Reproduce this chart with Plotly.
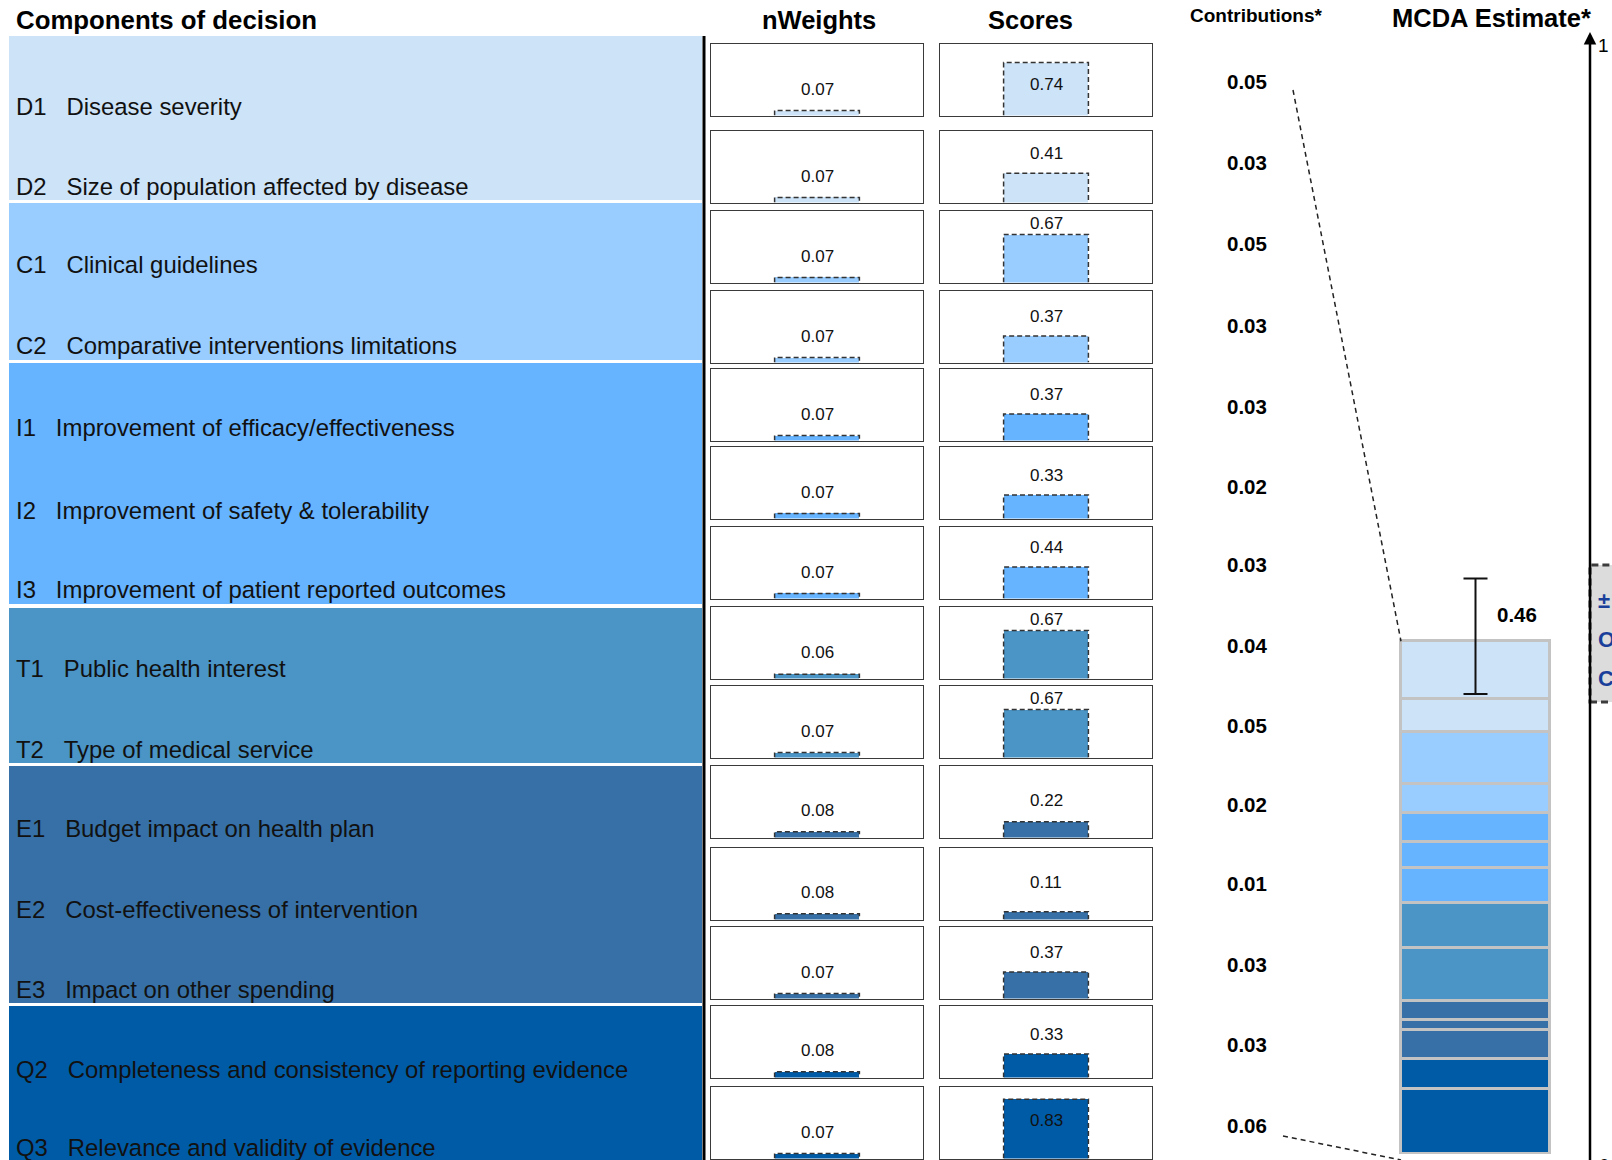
import plotly.graph_objects as go

# ---------------- data ----------------
codes = ["D1", "D2", "C1", "C2", "I1", "I2", "I3", "T1", "T2", "E1", "E2", "E3", "Q2", "Q3"]
criteria = [
    "Disease severity",
    "Size of population affected by disease",
    "Clinical guidelines",
    "Comparative interventions limitations",
    "Improvement of efficacy/effectiveness",
    "Improvement of safety & tolerability",
    "Improvement of patient reported outcomes",
    "Public health interest",
    "Type of medical service",
    "Budget impact on health plan",
    "Cost-effectiveness of intervention",
    "Impact on other spending",
    "Completeness and consistency of reporting evidence",
    "Relevance and validity of evidence",
]
groups = ["D", "D", "C", "C", "I", "I", "I", "T", "T", "E", "E", "E", "Q", "Q"]
weights = [0.07, 0.07, 0.07, 0.07, 0.07, 0.07, 0.07, 0.06, 0.07, 0.08, 0.08, 0.07, 0.08, 0.07]
scores = [0.74, 0.41, 0.67, 0.37, 0.37, 0.33, 0.44, 0.67, 0.67, 0.22, 0.11, 0.37, 0.33, 0.83]
estimate_err_plus = 0.056
estimate_err_minus = 0.047
note_lines = ["± SD", "Overall", "Certainty"]

group_colors = {
    "D": "#cde3f7",
    "C": "#99ccff",
    "I": "#66b3ff",
    "T": "#4a94c6",
    "E": "#3670a6",
    "Q": "#005ba6",
}

contributions = [w * s for w, s in zip(weights, scores)]
total = sum(contributions)
# stacked from the bottom: last criterion sits at the base of the column
bases = [sum(contributions[i + 1:]) for i in range(len(contributions))]

# ---------------- page geometry (px) ----------------
W, H = 1612, 1160
FONT = "Liberation Sans, Arial, sans-serif"
row_tops = [44, 131, 211, 291, 369, 447, 527, 607, 686, 766, 848, 927, 1006, 1087]
label_rows = [106, 186, 264, 345, 428, 510, 589, 668, 749, 828, 909, 989, 1069, 1147]
contrib_rows = [82, 163, 244, 326, 406, 486, 565, 646, 725, 804, 883, 964, 1044, 1125]
BOX_H = 71.5
weight_box = (711, 923)
score_box = (940, 1152)
band_spans = {"D": (36, 200), "C": (203, 360), "I": (363, 604),
              "T": (608, 763), "E": (766, 1003), "Q": (1006, 1165)}

est_dom = (1380, 1612)
est_bar = (1401, 1550)
est_zero_px, est_one_px = 1154, 32
axis_px = 1590


def px(x):
    return x / W


def py(y):
    return 1 - y / H


fig = go.Figure()
layout = dict(
    width=W, height=H,
    margin=dict(l=0, r=0, t=0, b=0),
    paper_bgcolor="white", plot_bgcolor="rgba(0,0,0,0)",
    showlegend=False,
    font=dict(family=FONT, color="#111111"),
)
shapes = []
annotations = []

# ---------------- group bands + criterion labels ----------------
for g, (y0, y1) in band_spans.items():
    shapes.append(dict(type="rect", xref="paper", yref="paper", layer="below",
                       x0=px(9), x1=px(702), y0=py(y1), y1=py(y0),
                       fillcolor=group_colors[g], line=dict(width=0)))
shapes.append(dict(type="line", xref="paper", yref="paper",
                   x0=px(704), x1=px(704), y0=py(36), y1=py(1165),
                   line=dict(color="black", width=3)))

for i, (c, name) in enumerate(zip(codes, criteria)):
    annotations.append(dict(xref="paper", yref="paper", x=px(14), y=py(label_rows[i]),
                            xanchor="left", yanchor="middle", showarrow=False,
                            text=c + "\u00a0\u00a0\u00a0" + name,
                            font=dict(size=23.9, color="#111111")))

# ---------------- headers ----------------
headers = [
    ("Components of decision", 14, 20, "left", 25.8),
    ("nWeights", 819, 20, "center", 25.5),
    ("Scores", 1030, 20, "center", 25.5),
    ("Contributions*", 1256, 15, "center", 19),
    ("MCDA Estimate*", 1491, 18, "center", 25.5),
]
for txt, x, y, anchor, size in headers:
    annotations.append(dict(xref="paper", yref="paper", x=px(x), y=py(y),
                            xanchor=anchor, yanchor="middle", showarrow=False,
                            text="<b>" + txt + "</b>", font=dict(size=size, color="black")))

# ---------------- mini bar panels (weights and scores) ----------------
BAR_HALF = 0.2
dash_style = "5px,3px"


def mini_axes(k, xspan, top):
    sfx = "" if k == 1 else str(k)
    common = dict(showline=True, mirror=True, linecolor="#3a3a3a", linewidth=1,
                  showticklabels=False, ticks="", showgrid=False, zeroline=False,
                  fixedrange=True)
    layout["xaxis" + sfx] = dict(domain=[px(xspan[0]), px(xspan[1])], range=[-0.5, 0.5],
                                 anchor="y" + sfx, **common)
    layout["yaxis" + sfx] = dict(domain=[py(top + BOX_H), py(top)], range=[0, 1],
                                 anchor="x" + sfx, **common)
    return "x" + sfx, "y" + sfx


def add_panel(k, xspan, top, value, color, label_y):
    xr, yr = mini_axes(k, xspan, top)
    fig.add_trace(go.Bar(x=[0], y=[value], width=2 * BAR_HALF, xaxis=xr, yaxis=yr,
                         marker=dict(color=color, line=dict(width=0)), hoverinfo="skip"))
    fig.add_trace(go.Scatter(x=[-BAR_HALF, -BAR_HALF, BAR_HALF, BAR_HALF],
                             y=[0, value, value, 0], mode="lines", xaxis=xr, yaxis=yr,
                             line=dict(color="#333333", width=1.5, dash=dash_style),
                             hoverinfo="skip", cliponaxis=False))
    annotations.append(dict(xref=xr, yref=yr, x=0, y=label_y, showarrow=False,
                            xanchor="center", yanchor="middle",
                            text=f"{value:.2f}", font=dict(size=17, color="#111111")))


n = len(codes)
for i in range(n):
    col = group_colors[groups[i]]
    w = weights[i]
    add_panel(i + 1, weight_box, row_tops[i], w, col, w + 0.3)
    s = scores[i]
    s_lab = s - 0.3 if s >= 0.7 else min(max(s + 0.27, 0.52), 0.82)
    add_panel(n + i + 1, score_box, row_tops[i], s, col, s_lab)

# ---------------- contribution values ----------------
for i, c in enumerate(contributions):
    annotations.append(dict(xref="paper", yref="paper", x=px(1247), y=py(contrib_rows[i]),
                            xanchor="center", yanchor="middle", showarrow=False,
                            text=f"<b>{c:.2f}</b>", font=dict(size=20.5, color="black")))

# ---------------- MCDA estimate stacked column ----------------
k = 2 * n + 1
sfx = str(k)
unit = est_bar[1] - est_bar[0]
x_lo = -0.5 - (est_bar[0] - est_dom[0]) / unit
x_hi = 0.5 + (est_dom[1] - est_bar[1]) / unit
y_dom = [py(est_zero_px), py(est_one_px)]
layout["xaxis" + sfx] = dict(domain=[px(est_dom[0]), 1], range=[x_lo, x_hi], visible=False,
                             anchor="y" + sfx, fixedrange=True)
layout["yaxis" + sfx] = dict(domain=y_dom, range=[0, 1], visible=False,
                             anchor="x" + sfx, fixedrange=True)
xr, yr = "x" + sfx, "y" + sfx

fig.add_trace(go.Bar(x=[0] * n, y=contributions, base=bases, width=1, xaxis=xr, yaxis=yr,
                     marker=dict(color=[group_colors[g] for g in groups],
                                 line=dict(color="#c3c3c3", width=3)),
                     hoverinfo="skip", cliponaxis=False))
fig.add_trace(go.Scatter(x=[0], y=[total], mode="markers", xaxis=xr, yaxis=yr,
                         marker=dict(size=1, color="rgba(0,0,0,0)"),
                         error_y=dict(type="data", symmetric=False,
                                      array=[estimate_err_plus],
                                      arrayminus=[estimate_err_minus],
                                      color="#111111", thickness=2, width=12),
                         hoverinfo="skip", cliponaxis=False))
annotations.append(dict(xref=xr, yref=yr, x=0, y=total, xshift=41, yshift=27,
                        showarrow=False, xanchor="center", yanchor="middle",
                        text=f"<b>{total:.2f}</b>", font=dict(size=20.5, color="black")))

axis_x = 0.5 + (axis_px - est_bar[1]) / unit
annotations.append(dict(xref=xr, yref=yr, x=axis_x, y=1, axref=xr, ayref=yr,
                        ax=axis_x, ay=-0.02, showarrow=True, arrowhead=2,
                        arrowwidth=2.5, arrowsize=1, arrowcolor="black", text=""))
annotations.append(dict(xref=xr, yref=yr, x=axis_x, y=1, xshift=13, yshift=-13,
                        showarrow=False, text="1", font=dict(size=19, color="black")))
annotations.append(dict(xref=xr, yref=yr, x=axis_x, y=0, xshift=14, yanchor="top",
                        yshift=1, showarrow=False, text="0", font=dict(size=19, color="black")))

# dashed leaders from the contribution column to the stacked column
top_y = y_dom[0] + total * (y_dom[1] - y_dom[0])
lead = dict(color="#222222", width=1.5, dash="5px,4px")
shapes.append(dict(type="line", xref="paper", yref="paper",
                   x0=px(1293), y0=py(90), x1=px(est_bar[0]), y1=top_y, line=lead))
shapes.append(dict(type="line", xref="paper", yref="paper",
                   x0=px(1283), y0=py(1136), x1=px(est_bar[0]), y1=py(1160), line=lead))

# note box at the right edge
shapes.append(dict(type="rect", xref="paper", yref="paper", layer="above",
                   x0=px(1590), x1=1.1, y0=py(702), y1=py(565),
                   fillcolor="#dcdcdc", line=dict(color="#3c3c3c", width=3, dash="7px,4px")))
for j, line in enumerate(note_lines):
    annotations.append(dict(xref="paper", yref="paper", x=px(1596), y=py(600 + 39 * j),
                            xanchor="left", yanchor="middle", showarrow=False,
                            text="<b>" + line + "</b>",
                            font=dict(size=22, color="#1a3f9a")))

layout["shapes"] = shapes
layout["annotations"] = annotations
layout["bargap"] = 0
fig.update_layout(**layout)

fig.write_html("out.html")
